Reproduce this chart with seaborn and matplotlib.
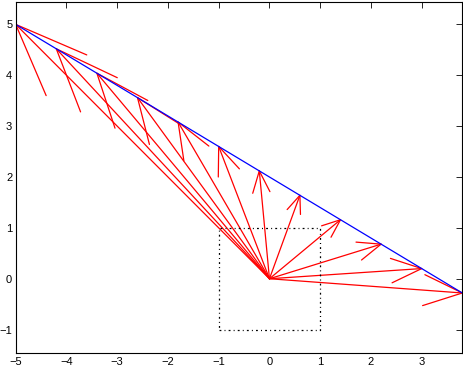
import numpy as np
import pandas as pd
import matplotlib
matplotlib.use("Agg")
import matplotlib.pyplot as plt
import seaborn as sns

# Points on the blue line (arrow tips)
tip_x = [-5.0, -4.2, -3.4, -2.6, -1.8, -1.0, -0.2, 0.6, 1.4, 2.2, 3.0, 3.8]
tip_y = [5.0, 4.52, 4.04, 3.56, 3.08, 2.6, 2.12, 1.64, 1.16, 0.68, 0.2, -0.28]
origin_x = 0.0
origin_y = 0.0

# Dotted square
sq_x = [-1, 1, 1, -1, -1]
sq_y = [-1, -1, 1, 1, -1]

x_ticks = [-5, -4, -3, -2, -1, 0, 1, 2, 3]
y_ticks = [-1, 0, 1, 2, 3, 4, 5]

# arrowhead shape (MATLAB quiver style)
head_alpha = 0.2
head_beta = 0.4

sns.set_theme(style="white")
plt.rcParams['font.family'] = ['Liberation Sans', 'DejaVu Sans']
plt.rcParams['axes.unicode_minus'] = True

rows = []
seg = 0
for tx, ty in zip(tip_x, tip_y):
    u = tx - origin_x
    v = ty - origin_y
    # shaft
    rows += [(seg, origin_x, origin_y, 0), (seg, tx, ty, 1)]
    seg += 1
    b1x = tx - head_alpha * (u + head_beta * v)
    b1y = ty - head_alpha * (v - head_beta * u)
    b2x = tx - head_alpha * (u - head_beta * v)
    b2y = ty - head_alpha * (v + head_beta * u)
    rows += [(seg, b1x, b1y, 0), (seg, tx, ty, 1), (seg, b2x, b2y, 2)]
    seg += 1
arrows = pd.DataFrame(rows, columns=["seg", "x", "y", "order"])

fig = plt.figure(figsize=(4.63, 3.66), dpi=100)
ax = fig.add_axes([15.7 / 463, 1 - 352.5 / 366, 446.6 / 463, 351.0 / 366])

sns.lineplot(data=arrows, x="x", y="y", units="seg", estimator=None, sort=False,
             color="red", lw=0.9, ax=ax, legend=False)
line_df = pd.DataFrame({"x": tip_x, "y": tip_y})
sns.lineplot(data=line_df, x="x", y="y", sort=False, color="blue", lw=0.9, ax=ax)
ax.plot(sq_x, sq_y, color="black", lw=0.9, linestyle=(0, (1.5, 2.5, 0.8, 2.5)))

ax.set_xlim(-5, 3.8)
ax.set_ylim(-1.45, 5.45)
ax.set_xticks(x_ticks)
ax.set_yticks(y_ticks)
ax.set_xticklabels([f"{t:d}".replace("-", "\u2212") for t in x_ticks])
ax.set_yticklabels([f"{t:d}".replace("-", "\u2212") for t in y_ticks])
ax.set_xlabel("")
ax.set_ylabel("")
ax.tick_params(direction="in", length=4, width=0.6, top=True, right=True,
               labelsize=8, colors="black")
ax.tick_params(axis="x", pad=3)
ax.tick_params(axis="y", pad=2.5)
for s in ax.spines.values():
    s.set_color("black")
    s.set_linewidth(0.8)

fig.savefig("out.png", dpi=100, facecolor="white")
